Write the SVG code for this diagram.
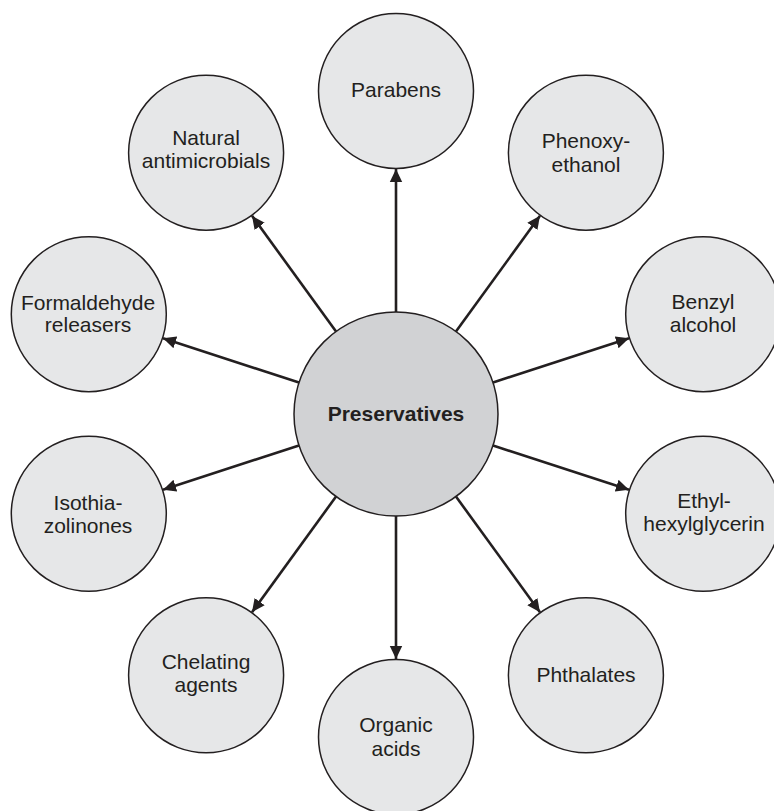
<svg xmlns="http://www.w3.org/2000/svg" width="774" height="811" viewBox="0 0 774 811">
  <defs>
    <style>
      .node { fill: #e6e7e8; stroke: #231f20; stroke-width: 1.5; }
      .hub { fill: #d1d2d4; stroke: #231f20; stroke-width: 1.5; }
      .lbl { font-family: "Liberation Sans", Arial, sans-serif; font-size: 21px; fill: #231f20; text-anchor: middle; }
      .hub-lbl { font-weight: bold; }
      .edge { stroke: #231f20; stroke-width: 2.6; fill: none; marker-end: url(#arrow); }
    </style>
    <marker id="arrow" markerUnits="userSpaceOnUse" markerWidth="14" markerHeight="14" viewBox="0 0 14 14" refX="13" refY="7" orient="auto">
      <path d="M0,0.8 L13,7 L0,13.2 Z" fill="#231f20"/>
    </marker>
  </defs>

  <rect width="774" height="811" fill="#ffffff"/>

  <!-- connectors: hub edge to satellite edge -->
  <g id="connectors">
    <line class="edge" x1="396" y1="312" x2="396" y2="169"/>
    <line class="edge" x1="455.95" y1="331.48" x2="540.0" y2="215.8"/>
    <line class="edge" x1="493.01" y1="382.48" x2="629.0" y2="338.3"/>
    <line class="edge" x1="493.01" y1="445.52" x2="629.0" y2="489.7"/>
    <line class="edge" x1="455.95" y1="496.52" x2="540.0" y2="612.2"/>
    <line class="edge" x1="396" y1="516" x2="396" y2="659"/>
    <line class="edge" x1="336.05" y1="496.52" x2="252.0" y2="612.2"/>
    <line class="edge" x1="298.99" y1="445.52" x2="163.0" y2="489.7"/>
    <line class="edge" x1="298.99" y1="382.48" x2="163.0" y2="338.3"/>
    <line class="edge" x1="336.05" y1="331.48" x2="252.0" y2="215.8"/>
  </g>

  <g id="preservatives">
    <circle class="hub" cx="396" cy="414" r="102"/>
    <text class="lbl hub-lbl" x="396" y="421">Preservatives</text>
  </g>

  <g id="parabens">
    <circle class="node" cx="396" cy="91" r="77.5"/>
    <text class="lbl" x="396" y="97">Parabens</text>
  </g>

  <g id="phenoxyethanol">
    <circle class="node" cx="585.9" cy="152.7" r="77.5"/>
    <text class="lbl" x="586" y="148">Phenoxy-</text>
    <text class="lbl" x="586" y="172">ethanol</text>
  </g>

  <g id="benzyl-alcohol">
    <circle class="node" cx="703.2" cy="314.2" r="77.5"/>
    <text class="lbl" x="703" y="308.5">Benzyl</text>
    <text class="lbl" x="703" y="332">alcohol</text>
  </g>

  <g id="ethylhexylglycerin">
    <circle class="node" cx="703.2" cy="513.8" r="77.5"/>
    <text class="lbl" x="704" y="507.5">Ethyl-</text>
    <text class="lbl" x="704" y="531">hexylglycerin</text>
  </g>

  <g id="phthalates">
    <circle class="node" cx="585.9" cy="675.3" r="77.5"/>
    <text class="lbl" x="586" y="682">Phthalates</text>
  </g>

  <g id="organic-acids">
    <circle class="node" cx="396" cy="737" r="77.5"/>
    <text class="lbl" x="396" y="732">Organic</text>
    <text class="lbl" x="396" y="756">acids</text>
  </g>

  <g id="chelating-agents">
    <circle class="node" cx="206.1" cy="675.3" r="77.5"/>
    <text class="lbl" x="206" y="668.5">Chelating</text>
    <text class="lbl" x="206" y="692">agents</text>
  </g>

  <g id="isothiazolinones">
    <circle class="node" cx="88.8" cy="513.8" r="77.5"/>
    <text class="lbl" x="88" y="509.5">Isothia-</text>
    <text class="lbl" x="88" y="533">zolinones</text>
  </g>

  <g id="formaldehyde-releasers">
    <circle class="node" cx="88.8" cy="314.2" r="77.5"/>
    <text class="lbl" x="88" y="309.5">Formaldehyde</text>
    <text class="lbl" x="88" y="332">releasers</text>
  </g>

  <g id="natural-antimicrobials">
    <circle class="node" cx="206.1" cy="152.7" r="77.5"/>
    <text class="lbl" x="206" y="144.5">Natural</text>
    <text class="lbl" x="206" y="168">antimicrobials</text>
  </g>
</svg>
